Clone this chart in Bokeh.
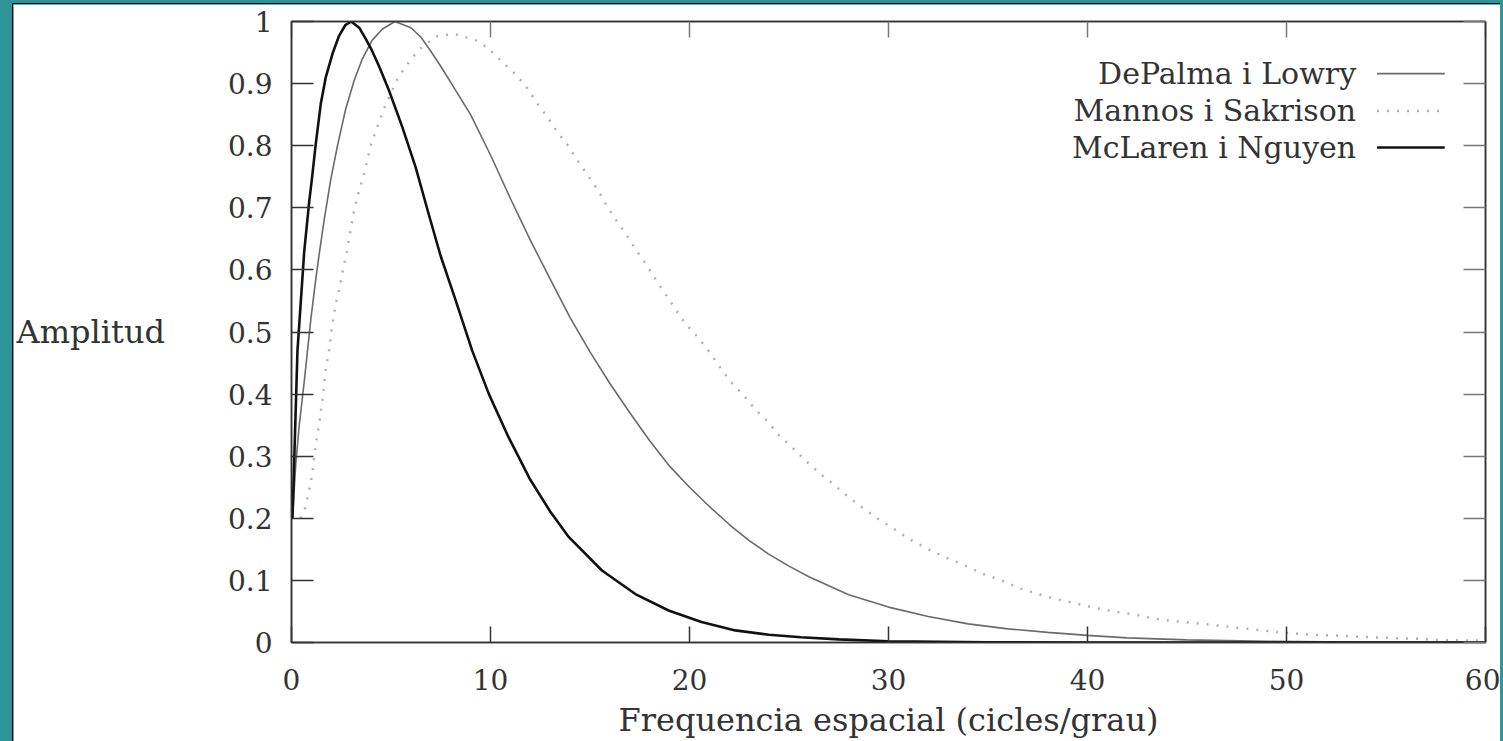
from bokeh.plotting import figure
from bokeh.models import (Range1d, FixedTicker, NumeralTickFormatter, LinearAxis,
                          Label, Arrow, CustomJSTickFormatter)
from bokeh.embed import file_html
from bokeh.resources import INLINE

# ---------------- data ----------------
x_ticks = [0, 10, 20, 30, 40, 50, 60]
y_ticks = [0, 0.1, 0.2, 0.3, 0.4, 0.5, 0.6, 0.7, 0.8, 0.9, 1.0]

series_names = ["DePalma i Lowry", "Mannos i Sakrison", "McLaren i Nguyen"]

# McLaren i Nguyen (thick black)
mcl_x = [0.05, 0.3, 0.47, 0.64, 0.89, 1.02, 1.22, 1.47, 1.72, 2.06, 2.39, 2.7, 3.0,
         3.4, 3.73, 4.0, 4.4, 4.9, 5.57, 6.24, 6.91, 7.5, 8.25, 9.08, 9.92, 10.9, 12.0,
         13.0, 13.93, 15.6, 17.28, 18.95, 20.6, 22.3, 24.0, 25.6, 27.5, 30.0, 35.0,
         40.0, 50.0, 60.0]
mcl_y = [0.2, 0.47, 0.55, 0.63, 0.71, 0.745, 0.803, 0.867, 0.91, 0.948, 0.977, 0.994, 1.0,
         0.99, 0.972, 0.956, 0.928, 0.889, 0.83, 0.765, 0.688, 0.622, 0.551, 0.47, 0.40, 0.331,
         0.262, 0.211, 0.17, 0.116, 0.078, 0.0515, 0.033, 0.0195, 0.0125, 0.0085, 0.005, 0.002,
         0.0005, 0.0001, 0.0, 0.0]

# DePalma i Lowry (thin grey)
dep_x = [0.05, 0.22, 0.39, 0.64, 0.97, 1.22, 1.39, 1.64, 1.97, 2.31, 2.73, 3.15, 3.56,
         4.06, 4.57, 5.2, 6.0, 6.5, 7.0, 7.5, 8.25, 9.0, 10.0, 11.0, 12.0, 13.0, 14.0,
         15.0, 16.0, 17.0, 18.0, 19.0, 20.0, 21.0, 22.0, 23.0, 24.0, 25.0, 26.0, 28.0,
         30.0, 32.0, 34.0, 36.0, 38.0, 40.0, 42.0, 45.0, 49.0, 55.0, 60.0]
dep_y = [0.2, 0.29, 0.35, 0.42, 0.52, 0.585, 0.625, 0.68, 0.745, 0.8, 0.86, 0.905, 0.94,
         0.97, 0.988, 1.0, 0.99, 0.975, 0.952, 0.928, 0.889, 0.85, 0.785, 0.715, 0.648, 0.585,
         0.523, 0.468, 0.417, 0.37, 0.325, 0.284, 0.25, 0.219, 0.19, 0.164, 0.142, 0.123, 0.106,
         0.077, 0.057, 0.042, 0.03, 0.022, 0.0163, 0.0115, 0.0075, 0.0042, 0.0018, 0.0005, 0.0002]

# Mannos i Sakrison (dotted)
man_x = [0.45, 0.69, 0.89, 1.05, 1.22, 1.39, 1.56, 1.72, 1.89, 2.06, 2.26, 2.43, 2.59,
         2.78, 3.11, 3.31, 3.65, 3.98, 4.35, 4.68, 5.37, 5.87, 6.41, 7.28, 8.14, 9.2,
         9.88, 10.59, 11.29, 11.84, 12.33, 12.84, 13.36, 13.9, 14.42, 14.94, 15.45, 15.8,
         16.32, 16.86, 17.36, 17.88, 18.23, 18.75, 19.27, 19.78, 20.49, 21.02, 21.52, 22.04,
         22.75, 23.28, 23.95, 24.49, 25.19, 25.86, 26.56, 27.26, 27.96, 28.65, 29.52, 30.37,
         31.07, 31.95, 32.8, 33.85, 34.7, 35.59, 36.64, 37.5, 38.55, 39.4, 40.5, 41.5, 42.4,
         43.4, 44.5, 45.5, 46.6, 47.4, 48.4, 49.5, 50.6, 51.6, 52.7, 53.7, 54.7, 55.6, 56.7,
         57.6, 58.7, 59.8]
man_y = [0.2, 0.217, 0.245, 0.272, 0.32, 0.352, 0.392, 0.44, 0.471, 0.515, 0.55, 0.573, 0.60,
         0.63, 0.69, 0.718, 0.755, 0.80, 0.834, 0.862, 0.911, 0.933, 0.955, 0.976, 0.98, 0.971,
         0.957, 0.935, 0.914, 0.893, 0.869, 0.847, 0.822, 0.80, 0.774, 0.75, 0.726, 0.705,
         0.68, 0.655, 0.63, 0.606, 0.588, 0.563, 0.538, 0.514, 0.489, 0.467, 0.444, 0.421,
         0.397, 0.376, 0.355, 0.334, 0.313, 0.292, 0.272, 0.254, 0.235, 0.218, 0.198, 0.181,
         0.166, 0.151, 0.138, 0.124, 0.111, 0.101, 0.087, 0.078, 0.069, 0.063, 0.055, 0.049, 0.045,
         0.038, 0.034, 0.031, 0.027, 0.024, 0.021, 0.017, 0.014, 0.012, 0.011, 0.009, 0.008, 0.007,
         0.006, 0.004, 0.0035, 0.003]

x_label = "Frequencia espacial (cicles/grau)"
y_label = "Amplitud"

# ---------------- styling ----------------
FONT = "DejaVu Serif"
FS_TICK = "28px"
FS_AXIS = "32px"
FS_LEG = "30px"
TXT = "#333333"
AX = "#333333"

p = figure(width=1488, height=740,
           x_range=Range1d(0, 60), y_range=Range1d(0, 1),
           output_backend="svg", toolbar_location=None,
           min_border_left=276, min_border_right=16,
           min_border_top=17, min_border_bottom=102,
           background_fill_color="white", border_fill_color="white")
p.styles = {"margin-left": "12px", "margin-top": "3px",
            "border-left": "1px solid #000000", "border-top": "1px solid #000000"}
p.grid.visible = False
p.outline_line_color = AX
p.outline_line_width = 1.5

xa = p.xaxis[0]
xa.ticker = FixedTicker(ticks=x_ticks)
xa.major_tick_in = 16
xa.major_tick_out = 0
xa.minor_tick_line_color = None
xa.axis_line_color = AX
xa.axis_line_width = 1.5
xa.major_tick_line_color = AX
xa.major_tick_line_width = 1.5
xa.major_label_standoff = 26
xa.major_label_text_font = FONT
xa.major_label_text_font_size = FS_TICK
xa.major_label_text_color = TXT
xa.axis_label = x_label
xa.axis_label_text_font = FONT
xa.axis_label_text_font_size = FS_AXIS
xa.axis_label_text_font_style = "normal"
xa.axis_label_text_color = TXT
xa.axis_label_standoff = 8

ya = p.yaxis[0]
ya.ticker = FixedTicker(ticks=y_ticks)
ya.formatter = NumeralTickFormatter(format="0.[0]")
ya.major_tick_in = 22
ya.major_tick_out = 0
ya.minor_tick_line_color = None
ya.axis_line_color = AX
ya.axis_line_width = 1.5
ya.major_tick_line_color = AX
ya.major_tick_line_width = 1.5
ya.major_label_standoff = 19
ya.major_label_text_font = FONT
ya.major_label_text_font_size = FS_TICK
ya.major_label_text_color = TXT
ya.axis_label = y_label
ya.axis_label_orientation = "horizontal"
ya.axis_label_text_font = FONT
ya.axis_label_text_font_size = FS_AXIS
ya.axis_label_text_font_style = "normal"
ya.axis_label_text_color = TXT
ya.axis_label_standoff = 60

blank = CustomJSTickFormatter(code="return ''")
top = LinearAxis(ticker=FixedTicker(ticks=x_ticks), formatter=blank,
                 major_tick_in=16, major_tick_out=0, minor_tick_line_color=None,
                 major_label_standoff=0, major_label_text_font_size="1px",
                 axis_line_color=AX, axis_line_width=1.5,
                 major_tick_line_color="#777777", major_tick_line_width=1.5)
p.add_layout(top, "above")
right = LinearAxis(ticker=FixedTicker(ticks=y_ticks), formatter=blank,
                   major_tick_in=22, major_tick_out=0, minor_tick_line_color=None,
                   major_label_standoff=0, major_label_text_font_size="1px",
                   axis_line_color=AX, axis_line_width=1.5,
                   major_tick_line_color="#777777", major_tick_line_width=1.5)
p.add_layout(right, "right")

# ---------------- curves ----------------
styles = [dict(line_color="#6a6a6a", line_width=1.6),
          dict(line_color="#b0b0b0", line_width=2.5, line_dash="2 8"),
          dict(line_color="#111111", line_width=2.6)]
p.line(dep_x, dep_y, **styles[0])
p.line(man_x, man_y, **styles[1])
p.line(mcl_x, mcl_y, **styles[2])

# ---------------- legend (text, then sample line, top right) ----------------
leg_text_x = 53.5
leg_line_x0, leg_line_x1 = 54.55, 57.95
leg_rows = [0.916, 0.856, 0.797]
for name, st, yy in zip(series_names, styles, leg_rows):
    p.add_layout(Label(x=leg_text_x, y=yy, text=name, text_align="right",
                       text_baseline="middle", text_font=FONT, text_font_size=FS_LEG,
                       text_color=TXT))
    p.add_layout(Arrow(x_start=leg_line_x0, y_start=yy, x_end=leg_line_x1, y_end=yy,
                       start=None, end=None, **st))

html = file_html(p, INLINE, title="Amplitud")
css = "<style>html, body { background-color: #2e9699 !important; overflow: hidden; }</style>"
html = html.replace("</head>", css + "\n</head>", 1)
open("out.html", "w").write(html)
